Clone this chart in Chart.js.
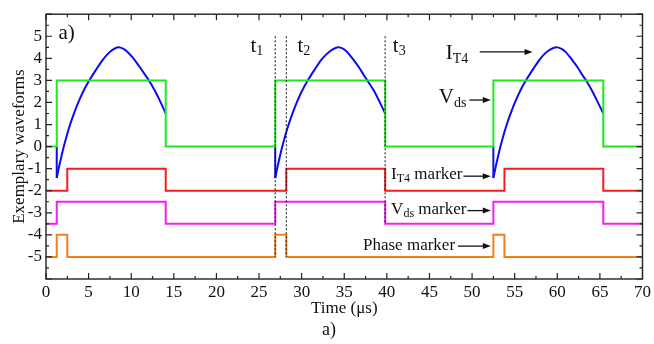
<!DOCTYPE html>
<html>
<head>
<meta charset="utf-8">
<script src="https://cdn.jsdelivr.net/npm/chart.js@4.4.0/dist/chart.umd.min.js"></script>
<style>
body { margin: 0; background: #fff; }
</style>
</head>
<body>
<canvas id="wave" width="654" height="344"></canvas>
<script>
// waveforms, time in µs

// step signals: value switches to v at time t
let vdsTime  = [0, 1.26, 14.05, 26.9, 39.8, 52.5, 65.4, 70];
let vdsValue = [0, 3, 0, 3, 0, 3, 0, 0];

let itMarkTime  = [0, 2.5, 14.05, 28.2, 39.8, 53.8, 65.4, 70];
let itMarkValue = [-2, -1, -2, -1, -2, -1, -2, -2];

let vdsMarkTime  = [0, 1.26, 14.05, 26.9, 39.8, 52.5, 65.4, 70];
let vdsMarkValue = [-3.5, -2.5, -3.5, -2.5, -3.5, -2.5, -3.5, -3.5];

let phaseTime  = [0, 1.26, 2.5, 26.9, 28.2, 52.5, 53.8, 70];
let phaseValue = [-5, -4, -5, -4, -5, -4, -5, -5];

// I_T4 current, three conduction pulses (null = gap)
let itTime = [
    1.26, 1.5, 1.75, 2.05, 2.4, 2.83, 3.3, 3.84, 4.5, 5.16, 5.9, 6.64, 7.2, 7.8, 8.45,
    9.1, 9.6, 10.14, 10.6, 11.1, 11.6, 12.1, 12.75, 13.4, 14.05, 20,
    26.9, 27.14, 27.39, 27.69, 28.04, 28.47, 28.94, 29.48, 30.14, 30.8, 31.54, 32.28, 32.9, 33.55, 34.25,
    34.9, 35.35, 35.85, 36.3, 36.8, 37.25, 37.74, 38.45, 39.12, 39.8, 46,
    52.5, 52.74, 52.99, 53.29, 53.64, 54.07, 54.54, 55.08, 55.74, 56.4, 57.14, 57.88, 58.45, 59.1, 59.85,
    60.5, 61.0, 61.5, 61.95, 62.45, 62.9, 63.4, 64.05, 64.7, 65.4
];
let itValue = [
    -1.42, -0.97, -0.54, -0.05, 0.45, 1.0, 1.52, 2.05, 2.6, 3.05, 3.5, 3.92, 4.18, 4.38, 4.5,
    4.43, 4.28, 4.05, 3.82, 3.55, 3.27, 2.98, 2.55, 2.05, 1.5, null,
    -1.42, -0.97, -0.54, -0.05, 0.45, 1.0, 1.52, 2.05, 2.6, 3.05, 3.5, 3.92, 4.18, 4.38, 4.5,
    4.43, 4.28, 4.05, 3.82, 3.55, 3.27, 2.98, 2.55, 2.05, 1.5, null,
    -1.42, -0.97, -0.54, -0.05, 0.45, 1.0, 1.52, 2.05, 2.6, 3.05, 3.5, 3.92, 4.18, 4.38, 4.5,
    4.43, 4.28, 4.05, 3.82, 3.55, 3.27, 2.98, 2.55, 2.05, 1.5
];
// negative spike at switch-on
let spikeTime = [1.26, 26.9, 52.5];
let spikeLow  = -1.42;

// dotted time cursors t1, t2, t3
let cursorTime   = [26.9, 28.2, 39.8];
let cursorTop    = [5, 5, 5];
let cursorBottom = [-5, -5, -3.5];

let xTicks = [0, 70, 5];
let yTicks = [-6, 6, 1];

function pts(ts, vs) {
    return ts.map((t, i) => ({ x: t, y: vs[i] }));
}

let ink = '#111';
let blue = '#0c0cf0';
let serif = '"Liberation Serif", "Times New Roman", serif';
Chart.defaults.font.family = serif;
Chart.defaults.color = ink;

let cursorSets = cursorTime.map((t, i) => ({
    data: [{ x: t, y: cursorTop[i] }, { x: t, y: cursorBottom[i] }],
    borderColor: ink,
    borderWidth: 1,
    borderDash: [2, 2]
}));

let spikeSets = spikeTime.map(t => ({
    data: [{ x: t, y: 0 }, { x: t, y: spikeLow }],
    borderColor: blue
}));

// frame with inward ticks on all four sides
let axisFrame = {
    id: 'axisFrame',
    afterDraw(c) {
        let ctx = c.ctx, a = c.chartArea, sx = c.scales.x, sy = c.scales.y;
        ctx.save();
        ctx.strokeStyle = '#222';
        ctx.lineWidth = 1.4;
        ctx.strokeRect(a.left, a.top, a.right - a.left, a.bottom - a.top);
        ctx.lineWidth = 1.2;
        ctx.beginPath();
        for (let t = xTicks[0]; t <= xTicks[1]; t += xTicks[2] / 2) {
            let px = sx.getPixelForValue(t);
            let len = (t % xTicks[2] === 0) ? 6 : 3;
            ctx.moveTo(px, a.bottom); ctx.lineTo(px, a.bottom - len);
            ctx.moveTo(px, a.top); ctx.lineTo(px, a.top + len);
        }
        for (let v = yTicks[0]; v <= yTicks[1]; v += yTicks[2] / 2) {
            let py = sy.getPixelForValue(v);
            let len = Number.isInteger(v) ? 6 : 3;
            ctx.moveTo(a.left, py); ctx.lineTo(a.left + len, py);
            ctx.moveTo(a.right, py); ctx.lineTo(a.right - len, py);
        }
        ctx.stroke();
        ctx.restore();
    }
};

// text pieces: [text, size, baseline shift]
function label(ctx, x, y, parts) {
    for (let p of parts) {
        ctx.font = p[1] + 'px ' + serif;
        ctx.fillText(p[0], x, y + p[2]);
        x += ctx.measureText(p[0]).width;
    }
    return x;
}

function arrow(ctx, x0, y0, x1, y) {
    ctx.beginPath();
    ctx.moveTo(x0, y); ctx.lineTo(x1 - 6, y);
    ctx.stroke();
    ctx.beginPath();
    ctx.moveTo(x1, y); ctx.lineTo(x1 - 8, y - 3); ctx.lineTo(x1 - 8, y + 3);
    ctx.closePath();
    ctx.fill();
}

let notes = {
    id: 'notes',
    afterDraw(c) {
        let ctx = c.ctx, sx = c.scales.x, sy = c.scales.y;
        let X = v => sx.getPixelForValue(v), Y = v => sy.getPixelForValue(v);
        ctx.save();
        ctx.fillStyle = ink;
        ctx.strokeStyle = ink;
        ctx.lineWidth = 1.3;
        ctx.textBaseline = 'alphabetic';

        label(ctx, X(1.46), Y(4.87), [['a)', 21, 0]]);
        label(ctx, X(24.0), Y(4.29), [['t', 21, 0], ['1', 14, 3]]);
        label(ctx, X(29.5), Y(4.29), [['t', 21, 0], ['2', 14, 3]]);
        label(ctx, X(40.7), Y(4.29), [['t', 21, 0], ['3', 14, 3]]);

        label(ctx, X(46.9), Y(3.99), [['I', 21, 0], ['T4', 14, 4]]);
        arrow(ctx, X(50.9), 0, X(57.1), Y(4.29));
        let e = label(ctx, X(46.1), Y(1.96), [['V', 21, 0], ['ds', 14, 4]]);
        arrow(ctx, e + 3, 0, X(52.2), Y(2.11));

        e = label(ctx, X(40.5), Y(-1.47), [['I', 17, 0], ['T4', 12, 3], [' marker', 17, 0]]);
        arrow(ctx, e + 1, 0, X(52.2), Y(-1.34));
        e = label(ctx, X(40.5), Y(-3.04), [['V', 17, 0], ['ds', 12, 3], [' marker', 17, 0]]);
        arrow(ctx, e + 1, 0, X(52.2), Y(-2.9));
        e = label(ctx, X(37.2), Y(-4.69), [['Phase marker', 17, 0]]);
        arrow(ctx, e + 3, 0, X(52.2), Y(-4.51));

        ctx.textAlign = 'center';
        ctx.font = '18px ' + serif;
        ctx.fillText('a)', 329, 335);
        ctx.restore();
    }
};

let chart = new Chart(document.getElementById('wave'), {
    type: 'line',
    data: {
        datasets: cursorSets.concat([
            { data: pts(vdsTime, vdsValue), borderColor: '#1ee81e', stepped: true },
            { data: pts(itTime, itValue), borderColor: blue, spanGaps: false, tension: 0.3 }
        ], spikeSets, [
            { data: pts(itMarkTime, itMarkValue), borderColor: '#f41c1c', stepped: true },
            { data: pts(vdsMarkTime, vdsMarkValue), borderColor: '#f020f0', stepped: true },
            { data: pts(phaseTime, phaseValue), borderColor: '#f08018', stepped: true }
        ])
    },
    options: {
        responsive: false,
        animation: false,
        layout: { padding: { top: 12, right: 9, left: 0, bottom: 0 } },
        elements: {
            point: { radius: 0 },
            line: { borderWidth: 2, tension: 0 }
        },
        plugins: {
            legend: { display: false },
            tooltip: { enabled: false }
        },
        scales: {
            x: {
                type: 'linear',
                min: xTicks[0], max: xTicks[1],
                grid: { display: false, drawTicks: false },
                border: { display: false },
                ticks: { stepSize: xTicks[2], padding: 3, autoSkip: false, maxRotation: 0, font: { size: 17 } },
                title: { display: true, text: 'Time (μs)', font: { size: 17 }, padding: { top: 0, bottom: 25 } },
                afterFit(s) { s.height = 65; }
            },
            y: {
                type: 'linear',
                min: yTicks[0], max: yTicks[1],
                grid: { display: false, drawTicks: false },
                border: { display: false },
                ticks: {
                    stepSize: yTicks[2], padding: 4, autoSkip: false, font: { size: 17 },
                    callback: v => (Math.abs(v) > 5 ? '' : v)
                },
                title: { display: true, text: 'Exemplary waveforms', font: { size: 17 }, padding: { top: 9, bottom: 0 } },
                afterFit(s) { s.width = 46; }
            }
        }
    },
    plugins: [axisFrame, notes]
});
</script>
</body>
</html>
